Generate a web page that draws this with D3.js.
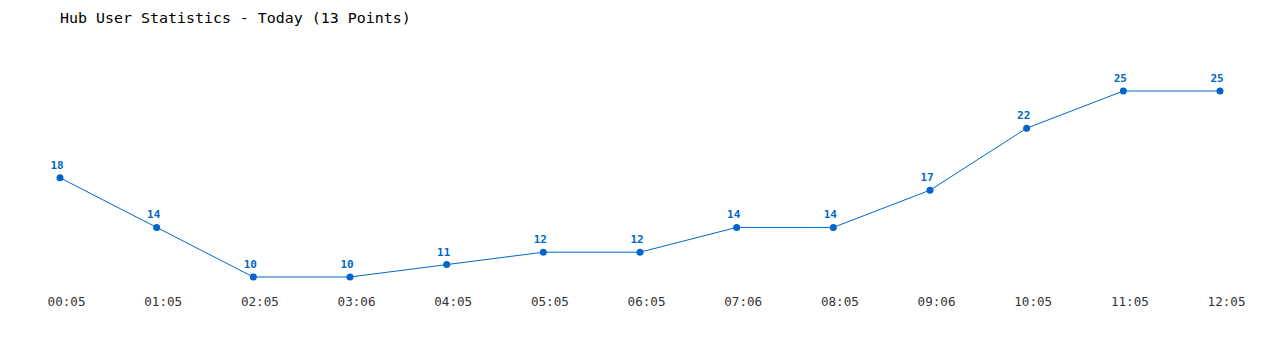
<!DOCTYPE html>
<html><head><meta charset="utf-8">
<script src="https://cdn.jsdelivr.net/npm/d3@7"></script>
<style>body{margin:0;background:#fff}svg{display:block}</style>
</head><body>
<script>
const title = "Hub User Statistics - Today (13 Points)";
const categories = ["00:05","01:05","02:05","03:06","04:05","05:05","06:05","07:06","08:05","09:06","10:05","11:05","12:05"];
const users = [18,14,10,10,11,12,12,14,14,17,22,25,25];

const W = 1280, H = 350, color = "#0066cc";
const svg = d3.select("body").append("svg").attr("width", W).attr("height", H);

const x = d3.scalePoint().domain(categories).range([60, 1220]);
const y = d3.scaleLinear().domain([10, 25]).range([277, 91]);

svg.append("text").attr("x", 60).attr("y", 23)
  .attr("font-family", "DejaVu Sans Mono, monospace").attr("font-size", 14.95)
  .attr("fill", "#000").text(title);

const xAxis = d3.axisBottom(x).tickSize(0).tickPadding(0);
const gx = svg.append("g").attr("transform", "translate(6,297)").call(xAxis);
gx.select(".domain").remove();
gx.selectAll("text").attr("font-family", "DejaVu Sans Mono, monospace")
  .attr("font-size", 12.6).attr("fill", "#333");

svg.append("path").datum(users)
  .attr("fill", "none").attr("stroke", color).attr("stroke-width", 1)
  .attr("d", d3.line().x((d, i) => x(categories[i])).y(d => y(d)));

svg.selectAll("circle.pt").data(users).join("circle").attr("class", "pt")
  .attr("cx", (d, i) => x(categories[i])).attr("cy", d => y(d)).attr("r", 3.5)
  .attr("fill", color);

svg.selectAll("text.lbl").data(users).join("text").attr("class", "lbl")
  .attr("x", (d, i) => x(categories[i]) - 3).attr("y", d => y(d) - 9)
  .attr("text-anchor", "middle")
  .attr("font-family", "DejaVu Sans Mono, monospace").attr("font-weight", "bold")
  .attr("font-size", 11).attr("fill", color).text(d => d);
</script>
</body></html>
